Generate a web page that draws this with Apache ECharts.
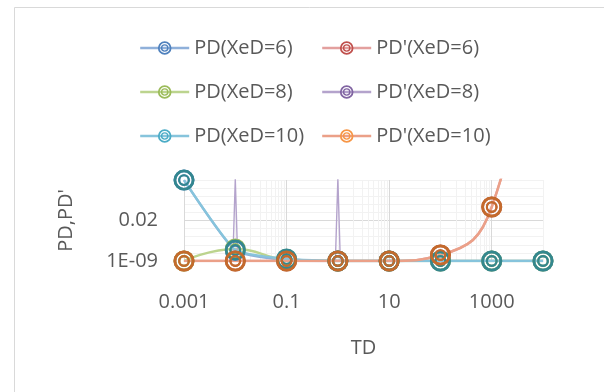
<!DOCTYPE html>
<html>
<head>
<meta charset="utf-8">
<script src="https://cdn.jsdelivr.net/npm/echarts@6/dist/echarts.min.js"></script>
<style>
html,body{margin:0;padding:0;background:#fff;}
#chart{width:604px;height:392px;}
</style>
</head>
<body>
<div id="chart"></div>
<script>
// ---- data ----
const tdValues = [0.001, 0.01, 0.1, 1, 10, 100, 1000, 10000];
const seriesNames = ['PD(XeD=6)', "PD'(XeD=6)", 'PD(XeD=8)', "PD'(XeD=8)", 'PD(XeD=10)', "PD'(XeD=10)"];
const pdXeD6   = [3.8e5, 8e-8, 1.5e-9, 1e-9, 1e-9, 1e-9, 1e-9, 1e-9];
const pdpXeD6  = [1e-9, 1e-9, 1e-9, 1e-9, 1e-9, 1.2e-8, 5.4, 1e45];
const pdXeD8   = [1e-9, 1.5e-7, 2e-9, 1e-9, 1e-9, 1e-9, 1e-9, 1e-9];
const pdpXeD8  = [1e-300, 6e5, 1e-300, 6e5, 1e-300, 1e-300, 1e-300, 1e-300];
const pdXeD10  = [3.8e5, 1e-7, 2.3e-9, 1e-9, 1e-9, 1e-9, 1e-9, 1e-9];
const pdpXeD10 = [1e-9, 1e-9, 1e-9, 1e-9, 1e-9, 1.2e-8, 5.4, 1e45];

const xTickValues = [0.001, 0.1, 10, 1000];
const xTickLabels = ['0.001', '0.1', '10', '1000'];
const yTickValues = [1e-9, 0.02];
const yTickLabels = ['1E-09', '0.02'];

// gridline positions (Excel major/minor gridlines)
const xGridValues = [0.001, 0.01, 0.02, 0.03, 0.04, 0.05, 0.06, 0.07, 0.08, 0.09, 0.1,
  1, 2, 3, 4, 5, 6, 7, 8, 9, 10, 100, 200, 300, 400, 500, 600, 700, 800, 900, 1000, 10000];
const yMin = 1e-9, yBase = 2e7, yMax = 4e5;
const yGridValues = [];
for (let k = 0; k <= 10; k++) yGridValues.push(yMin * Math.pow(yBase, k / 5));

const MAJOR = '#D9D9D9', MINOR = '#F2F2F2';
const xGridColors = xGridValues.map(v => xTickValues.indexOf(v) >= 0 ? MAJOR : MINOR);
const yGridColors = yGridValues.map((v, k) => k === 5 ? MAJOR : MINOR);

function labelFor(values, labels, v) {
  for (let i = 0; i < values.length; i++) {
    if (Math.abs(v - values[i]) <= Math.abs(values[i]) * 1e-6) return labels[i];
  }
  return '';
}

// double ring marker
const ringPath = 'path://M0,10A10,10 0 1,0 20,10A10,10 0 1,0 0,10Z' +
  'M2.6,10A7.4,7.4 0 1,1 17.4,10A7.4,7.4 0 1,1 2.6,10Z' +
  'M4.4,10A5.6,5.6 0 1,0 15.6,10A5.6,5.6 0 1,0 4.4,10Z' +
  'M6.4,10A3.6,3.6 0 1,1 13.6,10A3.6,3.6 0 1,1 6.4,10Z';

const styles = [
  {line: '#8FB0DA', marker: '#4F81BD', legend: '#4F81BD', smooth: 0.15, width: 2.4},
  {line: '#E3A09E', marker: '#B5533A', legend: '#C0504D', smooth: 0.5, width: 2.4},
  {line: '#BCD48E', marker: '#9BBB59', legend: '#9BBB59', smooth: 0.5, width: 2.4},
  {line: '#B4A3CC', marker: '#8064A2', legend: '#8064A2', smooth: false, width: 1.4},
  {line: '#86C4DC', marker: '#33878F', legend: '#4BACC6', smooth: 0.15, width: 2.4},
  {line: '#EBA088', marker: '#C46A2C', legend: '#F79646', smooth: 0.5, width: 2.4}
];
const seriesValues = [pdXeD6, pdpXeD6, pdXeD8, pdpXeD8, pdXeD10, pdpXeD10];

const series = seriesValues.map((vals, i) => ({
  name: seriesNames[i],
  type: 'line',
  data: tdValues.map((t, j) => [t, vals[j]]),
  smooth: styles[i].smooth,
  symbol: ringPath,
  symbolSize: 21,
  showAllSymbol: true,
  clip: true,
  lineStyle: {color: styles[i].line, width: styles[i].width},
  itemStyle: {color: styles[i].marker},
  emphasis: {disabled: true},
  animation: false
}));

const legendText = {color: '#595959', fontSize: 20, fontFamily: 'Open Sans', lineHeight: 20};
function legendData(idx) {
  return idx.map(i => ({name: seriesNames[i], itemStyle: {color: styles[i].legend},
    lineStyle: {width: 2.4}}));
}

const chart = echarts.init(document.getElementById('chart'), null, {renderer: 'canvas'});
chart.setOption({
  animation: false,
  backgroundColor: '#fff',
  textStyle: {fontFamily: 'Open Sans'},
  graphic: [{
    type: 'rect', silent: true,
    shape: {x: 14.5, y: 7.5, width: 640, height: 440},
    style: {fill: 'none', stroke: '#D9D9D9', lineWidth: 1}
  }],
  legend: [
    {data: legendData([0, 2, 4]), orient: 'vertical', left: 134, top: 33, itemWidth: 49, itemHeight: 17,
     itemGap: 24, textStyle: legendText, selectedMode: false},
    {data: legendData([1, 3, 5]), orient: 'vertical', left: 316, top: 33, itemWidth: 49, itemHeight: 17,
     itemGap: 24, textStyle: legendText, selectedMode: false}
  ],
  grid: {left: 184, right: 61, top: 180, bottom: 131, containLabel: false},
  xAxis: {
    type: 'log', logBase: 10, min: 0.001, max: 10000,
    name: 'TD', nameLocation: 'middle', nameGap: 77,
    nameTextStyle: {color: '#595959', fontSize: 20, fontFamily: 'Open Sans'},
    axisLine: {show: true, onZero: false, lineStyle: {color: MAJOR, width: 1}},
    axisTick: {show: false, customValues: xGridValues},
    axisLabel: {customValues: xTickValues, color: '#595959', fontSize: 20, margin: 31,
      formatter: v => labelFor(xTickValues, xTickLabels, v)},
    splitLine: {show: true, lineStyle: {color: xGridColors, width: 1}},
    minorSplitLine: {show: false}
  },
  yAxis: {
    type: 'log', logBase: 10, min: yMin, max: yMax,
    name: "PD,PD'", nameLocation: 'middle', nameGap: 108, nameRotate: 90,
    nameTextStyle: {color: '#595959', fontSize: 20, fontFamily: 'Open Sans'},
    axisLine: {show: false},
    axisTick: {show: false, customValues: yGridValues},
    axisLabel: {customValues: yTickValues, color: '#595959', fontSize: 20, margin: 26,
      formatter: v => labelFor(yTickValues, yTickLabels, v)},
    splitLine: {show: true, lineStyle: {color: yGridColors, width: 1}}
  },
  series: series
});
</script>
</body>
</html>
